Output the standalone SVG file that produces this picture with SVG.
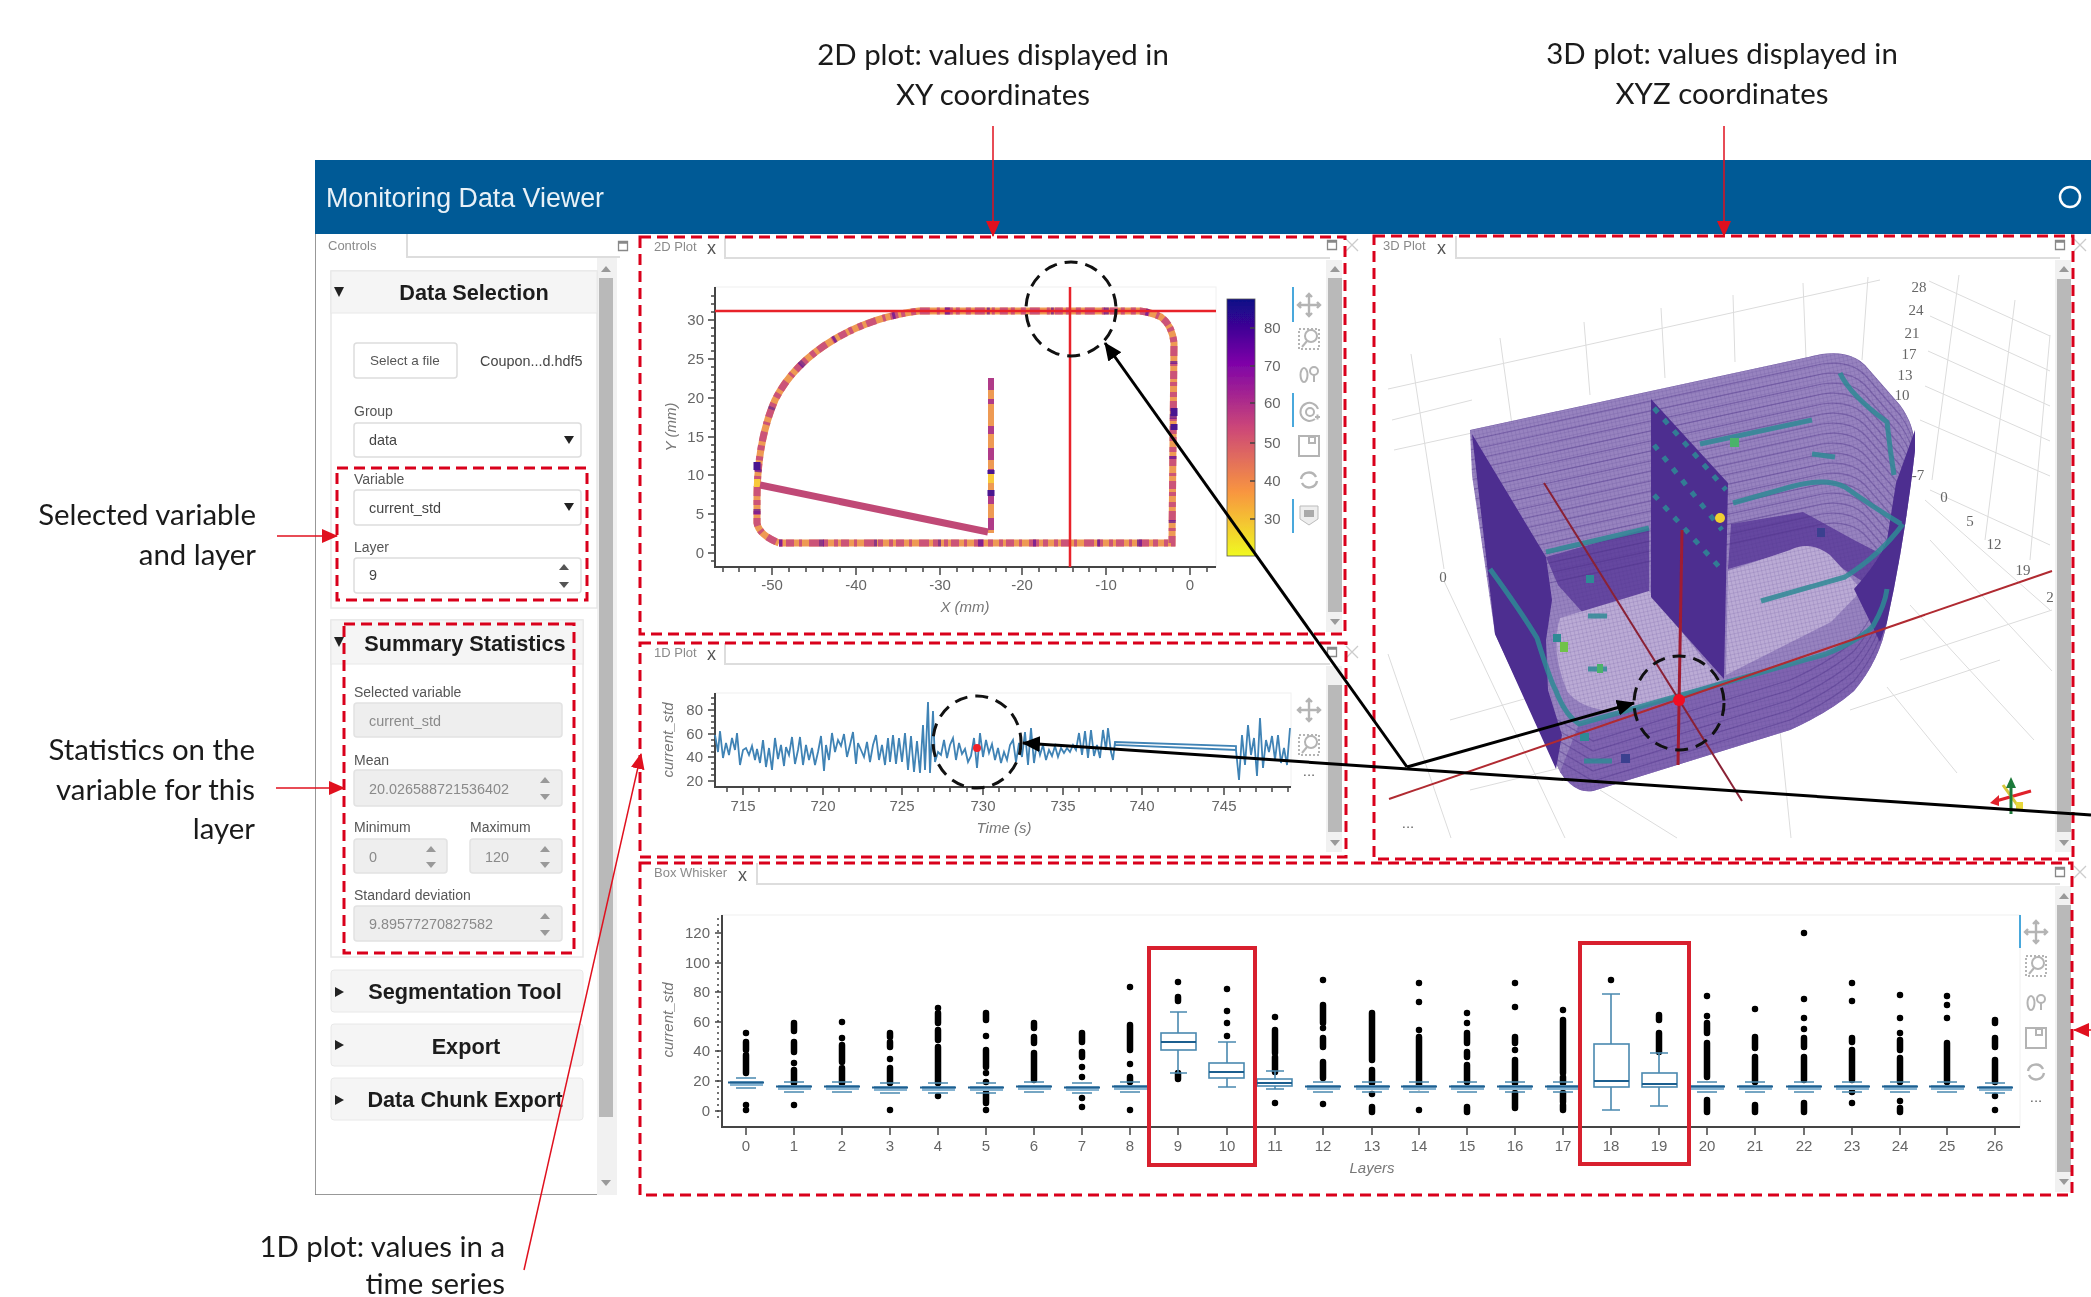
<svg xmlns="http://www.w3.org/2000/svg" width="2091" height="1297" viewBox="0 0 2091 1297">
<style>
.note{font:29.4px Lato,"Liberation Sans",sans-serif;fill:#1a1a1a}
.m{text-anchor:middle}.e{text-anchor:end}
.ui{font:14px "Liberation Sans",sans-serif;fill:#555}
.val{font:14.4px "Liberation Sans",sans-serif;fill:#444}
.dis{fill:#8a8a8a}
.hd{font:bold 21.7px "Liberation Sans",sans-serif;fill:#1c1c1c;text-anchor:middle}
.tab{font:13px "Liberation Sans",sans-serif;fill:#8a8a8a}
.tx{font:18px "Liberation Sans",sans-serif;fill:#555}
.tick{font:15px "Liberation Sans Narrow","Liberation Sans",sans-serif;fill:#666}
.ax{font:italic 15px "Liberation Sans",sans-serif;fill:#777;text-anchor:middle}
.t3{font:15px "Liberation Serif",serif;fill:#666;text-anchor:middle}
.dash{fill:none;stroke:#d9001b;stroke-width:3;stroke-dasharray:11 6}
.ring{fill:none;stroke:#111;stroke-width:3;stroke-dasharray:13 8}
.sol{fill:none;stroke:#d8202e;stroke-width:4}
.card{fill:#fff;stroke:#e8e8e8;stroke-width:1.5}
.chd{fill:#f5f5f5;stroke:#e8e8e8;stroke-width:1}
.inp{fill:#fff;stroke:#ddd;stroke-width:1.5}
.dinp{fill:#eee;stroke:#e2e2e2;stroke-width:1.5}
.track{fill:#f1f1f1}.thumb{fill:#b9b9b9}
.ln{stroke:#ddd;stroke-width:2;fill:none}
.axl{stroke:#444;stroke-width:2;fill:none}
.tk{stroke:#444;stroke-width:1.5;fill:none}
.plot{fill:#fff;stroke:#f0f0f0}
.ic{fill:none;stroke:#b4b4b4;stroke-width:2}
.bl{stroke:#4aa8dc;stroke-width:2}
.box{fill:#fff;stroke:#4a89b0;stroke-width:1.6}
.wh{fill:none;stroke:#4a89b0;stroke-width:1.6}
.med{stroke:#1f5f8f;stroke-width:2.2;fill:none}
.out{fill:none;stroke:#000;stroke-width:6.5;stroke-linecap:round}
.g3{fill:none;stroke:#dcdcdc;stroke-width:1}
.st{fill:none;stroke:#4a2f88;stroke-width:1.2;opacity:.4}
.teal{fill:none;stroke:#2f8a95;stroke-width:5;opacity:.85;stroke-linejoin:round}
.arr{stroke:#e0101e;stroke-width:1.5;fill:none}
.blk{stroke:#000;stroke-width:3;fill:none}
</style>
<defs>
<filter id="soft" x="0" y="0" width="100%" height="100%"><feGaussianBlur stdDeviation="0.55"/></filter>
<linearGradient id="plasma" x1="0" y1="0" x2="0" y2="1">
<stop offset="0" stop-color="#0d0887"/><stop offset=".25" stop-color="#7e03a8"/><stop offset=".5" stop-color="#cc4778"/><stop offset=".75" stop-color="#f89540"/><stop offset="1" stop-color="#f0f921"/>
</linearGradient>
<pattern id="mesh" width="4" height="4" patternUnits="userSpaceOnUse" patternTransform="rotate(-12)"><path d="M0 0H4M0 0V4" fill="none" stroke="#4a2f88" stroke-width=".6" opacity=".45"/></pattern>
<marker id="ar" markerUnits="userSpaceOnUse" markerWidth="16" markerHeight="14" refX="15" refY="7" orient="auto"><path d="M0 0L16 7L0 14Z" fill="#e0101e"/></marker>
<marker id="ak" markerUnits="userSpaceOnUse" markerWidth="18" markerHeight="16" refX="17" refY="8" orient="auto"><path d="M0 0L18 8L0 16Z" fill="#000"/></marker>
<path id="bodyp" d="M1470 430L1822 354Q1850 350 1865 365L1900 405Q1915 425 1915 450Q1905 540 1887 622Q1880 660 1854 691Q1830 712 1790 730L1593 791Q1575 794 1560 772Q1530 710 1495 634L1472 475Z"/>
<clipPath id="body"><use href="#bodyp"/></clipPath>
<g id="pan" class="ic"><path d="M0-11V11M-11 0H11M-3-8L0-11L3-8M-3 8L0 11L3 8M-8-3L-11 0L-8 3M8-3L11 0L8 3" stroke-width="2.4"/></g>
<g id="bz" class="ic"><rect x="-10" y="-10" width="20" height="20" stroke-dasharray="2 2"/><circle cx="2" cy="-3" r="6"/><path d="M-2 2L-7 8"/></g>
<g id="wh" class="ic"><ellipse cx="-5" cy="1" rx="3.5" ry="7"/><circle cx="5" cy="-3" r="4"/><path d="M5 1V8"/></g>
<g id="tp" class="ic"><path d="M6 8A9 9 0 1 1 9 -2"/><circle cx="1" cy="1" r="4"/><path d="M6 6H11M8.500 3.500V8.500"/></g>
<g id="sv" class="ic"><rect x="-10" y="-10" width="20" height="20"/><rect x="0" y="-9" width="6" height="6"/></g>
<g id="rf" class="ic"><path d="M-8 -1A8 8 0 0 1 7-3M8 1A8 8 0 0 1-7 3" stroke-width="2.4"/></g>
<g id="hv"><path d="M-9-9H9V4L0 10L-9 4Z" fill="#eee" stroke="#bbb"/><rect x="-5" y="-5" width="10" height="7" fill="#aaa"/></g>
<path id="up" d="M-5 3L0-3L5 3Z" fill="#555"/>
<path id="dn" d="M-5-3L0 3L5-3Z" fill="#555"/>
<path id="upg" d="M-5 3L0-3L5 3Z" fill="#999"/>
<path id="dng" d="M-5-3L0 3L5-3Z" fill="#999"/>
<path id="sel" d="M-5-4L0 4L5-4Z" fill="#222"/>
<path id="opn" d="M-5-5L0 5L5-5Z" fill="#222"/>
<path id="cls" d="M-4-5L5 0L-4 5Z" fill="#222"/>
<path id="mx" d="M-4.500-4.500H4.500V4.500H-4.500ZM-4.500-3H4.500" fill="none" stroke="#888" stroke-width="1.3"/>
<path id="cx" d="M-6-6L6 6M6-6L-6 6" fill="none" stroke="#ccc" stroke-width="1.3"/>
<g id="fb"><path class="wh" d="M-10 -3H10M-10 7H10"/><rect x="-16" y="0" width="33" height="5" fill="#86b4d2"/><path class="med" d="M-18 1.500H18" stroke-width="3"/></g>
<path id="s1" class="st" d="M1470 430L1822 354Q1850 350 1865 365L1900 405Q1915 425 1915 450"/>
<path id="s2" class="st" d="M1556 769L1593 791L1790 730Q1830 712 1854 691Q1880 660 1887 622"/>
</defs>

<g id="app" filter="url(#soft)">
<g id="header"><rect x="315" y="160" width="1776" height="74" fill="#005a96"/>
<text x="326" y="207" font-family="Liberation Sans" font-size="26.800" fill="#e8f1f7">Monitoring Data Viewer</text>
<circle cx="2070" cy="197" r="10" fill="none" stroke="#fff" stroke-width="2.500"/></g>

<g id="controls">
<path d="M315 234V1195H617" fill="none" stroke="#777" stroke-width="1.500"/>
<rect x="597" y="258" width="20" height="937" class="track"/>
<rect x="599" y="278" width="14" height="839" class="thumb"/>
<use href="#upg" x="606" y="269"/><use href="#dng" x="606" y="1183"/>
<path class="ln" d="M407 234V257H620"/><text class="tab" x="328" y="250">Controls</text><use href="#mx" x="623" y="246"/>
<g id="data-selection">
<rect class="card" x="331" y="271" width="266" height="337"/><rect class="chd" x="331" y="271" width="266" height="42"/>
<use href="#opn" x="339" y="292"/><text class="hd" x="474" y="300">Data Selection</text>
<rect class="inp" x="354" y="343" width="103" height="35" rx="3"/><text class="ui m" x="405" y="365" style="font-size:13.500px">Select a file</text>
<text class="val" x="480" y="366">Coupon...d.hdf5</text>
<text class="ui" x="354" y="416">Group</text><rect class="inp" x="354" y="423" width="227" height="34" rx="3"/><text class="val" x="369" y="445">data</text><use href="#sel" x="569" y="440"/>
<text class="ui" x="354" y="484">Variable</text><rect class="inp" x="354" y="490" width="227" height="35" rx="3"/><text class="val" x="369" y="513">current_std</text><use href="#sel" x="569" y="507"/>
<text class="ui" x="354" y="552">Layer</text><rect class="inp" x="354" y="558" width="227" height="35" rx="3"/><text class="val" x="369" y="580">9</text><use href="#up" x="564" y="567"/><use href="#dn" x="564" y="585"/>
</g>
<g id="summary-statistics">
<rect class="card" x="331" y="620" width="252" height="337"/><rect class="chd" x="331" y="620" width="252" height="44"/>
<use href="#opn" x="339" y="642"/><text class="hd" x="465" y="651">Summary Statistics</text>
<text class="ui" x="354" y="697">Selected variable</text><rect class="dinp" x="354" y="703" width="208" height="34" rx="3"/><text class="val dis" x="369" y="726">current_std</text>
<text class="ui" x="354" y="765">Mean</text><rect class="dinp" x="354" y="770" width="208" height="36" rx="3"/><text class="val dis" x="369" y="794">20.026588721536402</text><use href="#upg" x="545" y="780"/><use href="#dng" x="545" y="797"/>
<text class="ui" x="354" y="832">Minimum</text><rect class="dinp" x="354" y="839" width="93" height="34" rx="3"/><text class="val dis" x="369" y="862">0</text><use href="#upg" x="431" y="849"/><use href="#dng" x="431" y="865"/>
<text class="ui" x="470" y="832">Maximum</text><rect class="dinp" x="470" y="839" width="92" height="34" rx="3"/><text class="val dis" x="485" y="862">120</text><use href="#upg" x="545" y="849"/><use href="#dng" x="545" y="865"/>
<text class="ui" x="354" y="900">Standard deviation</text><rect class="dinp" x="354" y="906" width="208" height="35" rx="3"/><text class="val dis" x="369" y="929">9.89577270827582</text><use href="#upg" x="545" y="916"/><use href="#dng" x="545" y="933"/>
</g>
<g id="segmentation-tool"><rect class="chd" x="331" y="970" width="252" height="42" rx="3"/><use href="#cls" x="339" y="992"/><text class="hd" x="465" y="999">Segmentation Tool</text></g>
<g id="export"><rect class="chd" x="331" y="1024" width="252" height="42" rx="3"/><use href="#cls" x="339" y="1045"/><text class="hd" x="466" y="1054">Export</text></g>
<g id="chunk-export"><rect class="chd" x="331" y="1078" width="252" height="42" rx="3"/><use href="#cls" x="339" y="1100"/><text class="hd" x="465" y="1107">Data Chunk Export</text></g>
</g>

<g id="plot-2d">
<path class="ln" d="M725 236V258H1330"/><text class="tab" x="654" y="251">2D Plot</text><text class="tx" x="707" y="254">x</text><use href="#mx" x="1332" y="245"/><use href="#cx" x="1352" y="245"/>
<rect class="track" x="1326" y="260" width="16" height="372"/><rect class="thumb" x="1328" y="278" width="14" height="334"/><use href="#upg" x="1335" y="269"/><use href="#dng" x="1335" y="622"/>
<rect class="plot" x="715" y="287" width="501" height="280"/>
<path class="axl" d="M715 287V567H1216"/>
<path class="tk" d="M708 320H715M708 359H715M708 398H715M708 437H715M708 475H715M708 514H715M708 553H715M772 567V575M856 567V575M940 567V575M1022 567V575M1106 567V575M1190 567V575"/>
<path class="tk" stroke-width="1" d="M711 296H715M711 304H715M711 312H715M711 328H715M711 336H715M711 343H715M711 351H715M711 367H715M711 375H715M711 382H715M711 390H715M711 406H715M711 413H715M711 421H715M711 429H715M711 445H715M711 452H715M711 460H715M711 467H715M711 483H715M711 491H715M711 499H715M711 506H715M711 522H715M711 530H715M711 537H715M711 545H715M711 561H715M723 567V572M739 567V572M755 567V572M789 567V572M806 567V572M823 567V572M840 567V572M873 567V572M890 567V572M906 567V572M923 567V572M957 567V572M973 567V572M990 567V572M1006 567V572M1039 567V572M1056 567V572M1073 567V572M1089 567V572M1123 567V572M1140 567V572M1156 567V572M1173 567V572M1207 567V572"/>
<g class="tick"><text class="e" x="704" y="325">30</text><text class="e" x="704" y="364">25</text><text class="e" x="704" y="403">20</text><text class="e" x="704" y="442">15</text><text class="e" x="704" y="480">10</text><text class="e" x="704" y="519">5</text><text class="e" x="704" y="558">0</text>
<text class="m" x="772" y="590">-50</text><text class="m" x="856" y="590">-40</text><text class="m" x="940" y="590">-30</text><text class="m" x="1022" y="590">-20</text><text class="m" x="1106" y="590">-10</text><text class="m" x="1190" y="590">0</text></g>
<text class="ax" x="965" y="612">X (mm)</text><text class="ax" transform="translate(676 427) rotate(-90)">Y (mm)</text>
<path id="p2" fill="none" stroke="#ee9a52" stroke-width="7" d="M779 543H1172L1174 343Q1172 325 1161 317Q1150 312 1140 311H919C860 318 800 350 775 400C760 435 757 470 757 500V523Q759 535 779 543"/>
<path fill="none" stroke="#c64a7c" stroke-width="7" opacity=".9" stroke-dasharray="4 3 8 5 3 7 10 4 5 6" d="M779 543H1172L1174 343Q1172 325 1161 317Q1150 312 1140 311H919C860 318 800 350 775 400C760 435 757 470 757 500V523Q759 535 779 543"/>
<path fill="none" stroke="#6a1596" stroke-width="7" opacity=".75" stroke-dasharray="3 37 5 50 3 61" d="M779 543H1172L1174 343Q1172 325 1161 317Q1150 312 1140 311H919C860 318 800 350 775 400C760 435 757 470 757 500V523Q759 535 779 543"/>
<path fill="none" stroke="#ee9a52" stroke-width="6" d="M991 378V533"/>
<path fill="none" stroke="#b03a88" stroke-width="6" stroke-dasharray="12 9 5 22 8 14" d="M991 378V533"/>
<path fill="none" stroke="#4a1490" stroke-width="7" d="M1174 408v8M1174 424v6M757 462v8M991 470v4M991 490v6"/>
<path fill="none" stroke="#f8c93a" stroke-width="6" d="M991 474v9M757 479v8"/>
<path fill="none" stroke="#c04a76" stroke-width="7" d="M760 485L988 532"/>
<path fill="none" stroke="#e8202a" stroke-width="2.500" d="M715 311H1216M1070 287V567"/>
<rect x="1227" y="299" width="28" height="257" fill="url(#plasma)" stroke="#555" stroke-width=".8"/>
<path class="tk" d="M1250 328H1255M1250 366H1255M1250 403H1255M1250 443H1255M1250 481H1255M1250 519H1255"/>
<g class="tick"><text x="1264" y="333">80</text><text x="1264" y="371">70</text><text x="1264" y="408">60</text><text x="1264" y="448">50</text><text x="1264" y="486">40</text><text x="1264" y="524">30</text></g>
<path class="bl" d="M1293 287V322M1293 393V427M1293 499V533"/>
<use href="#pan" x="1309" y="305"/><use href="#bz" x="1309" y="339"/><use href="#wh" x="1309" y="374"/><use href="#tp" x="1309" y="411"/><use href="#sv" x="1309" y="446"/><use href="#rf" x="1309" y="480"/><use href="#hv" x="1309" y="515"/>
</g>

<g id="plot-1d">
<path class="ln" d="M725 643V664H1330"/><text class="tab" x="654" y="657">1D Plot</text><text class="tx" x="707" y="660">x</text><use href="#mx" x="1332" y="652"/><use href="#cx" x="1352" y="652"/>
<rect class="track" x="1326" y="666" width="16" height="186"/><rect class="thumb" x="1328" y="685" width="14" height="147"/><use href="#dng" x="1335" y="843"/>
<rect class="plot" x="715" y="693" width="576" height="94"/>
<path class="axl" d="M715 693V787H1291"/>
<path class="tk" d="M708 710H715M708 734H715M708 757H715M708 781H715M743 787V795M823 787V795M902 787V795M983 787V795M1063 787V795M1142 787V795M1224 787V795"/>
<path class="tk" stroke-width="1" d="M711 698H715M711 704H715M711 716H715M711 722H715M711 728H715M711 740H715M711 746H715M711 752H715M711 763H715M711 769H715M711 775H715M727 787V792M759 787V792M775 787V792M791 787V792M807 787V792M839 787V792M855 787V792M871 787V792M886 787V792M918 787V792M934 787V792M950 787V792M967 787V792M999 787V792M1015 787V792M1031 787V792M1047 787V792M1079 787V792M1095 787V792M1111 787V792M1127 787V792M1158 787V792M1175 787V792M1191 787V792M1208 787V792M1240 787V792M1256 787V792M1272 787V792M1288 787V792"/>
<g class="tick"><text class="e" x="703" y="715">80</text><text class="e" x="703" y="739">60</text><text class="e" x="703" y="762">40</text><text class="e" x="703" y="786">20</text>
<text class="m" x="743" y="811">715</text><text class="m" x="823" y="811">720</text><text class="m" x="902" y="811">725</text><text class="m" x="983" y="811">730</text><text class="m" x="1063" y="811">735</text><text class="m" x="1142" y="811">740</text><text class="m" x="1224" y="811">745</text></g>
<text class="ax" x="1004" y="833">Time (s)</text><text class="ax" transform="translate(673 740) rotate(-90)">current_std</text>
<polyline fill="none" stroke="#3f83b5" stroke-width="1.8" points="715,735 718,752 720,731 723,758 726,743 729,755 732,738 735,750 737,733 740,765 743,750 746,748 749,755 752,746 755,760 757,749 760,763 763,740 766,767 769,748 772,770 775,738 778,759 781,745 784,766 786,747 789,755 792,737 795,764 798,750 800,737 803,765 806,745 809,760 812,748 815,765 818,752 821,736 824,771 826,745 829,760 832,733 835,752 838,740 841,746 844,734 847,757 850,745 853,732 856,764 858,743 861,750 864,757 867,742 870,762 873,745 876,735 879,760 882,745 885,765 888,738 890,762 893,735 896,764 899,738 902,762 905,733 908,770 911,736 914,772 917,741 920,773 923,725 925,770 928,702 930,773 933,711 935,762 938,752 941,755 944,740 947,758 950,745 953,738 956,760 959,743 962,754 965,749 968,762 971,756 974,738 977,768 980,733 983,757 986,740 989,753 992,744 995,760 998,748 1001,763 1004,752 1007,760 1010,745 1013,740 1016,762 1019,743 1022,757 1025,732 1028,765 1031,728 1034,763 1037,742 1040,755 1043,745 1046,760 1049,750 1052,756 1055,746 1058,757 1061,748 1064,753 1067,748 1070,752 1073,745 1076,750 1079,733 1082,755 1085,731 1088,758 1091,730 1094,756 1097,745 1100,758 1103,730 1106,750 1108,728 1111,752 1113,760 1115,742 1236,746 1236,750 1115,745 1115,742"/>
<polyline fill="none" stroke="#3f83b5" stroke-width="1.8" points="1236,750 1239,780 1242,735 1245,765 1248,725 1251,755 1254,738 1257,776 1260,718 1263,768 1266,740 1269,752 1272,736 1275,760 1278,735 1281,763 1284,748 1287,765 1290,728"/>
<circle cx="977" cy="748" r="4" fill="#f0202a"/>
<use href="#pan" x="1309" y="710"/><use href="#bz" x="1309" y="745"/><text class="tick m" x="1309" y="776" fill="#aaa">...</text>
</g>

<g id="plot-3d">
<path class="ln" d="M1456 236V258H2060"/><text class="tab" x="1383" y="250">3D Plot</text><text class="tx" x="1437" y="254">x</text><use href="#mx" x="2060" y="245"/><use href="#cx" x="2080" y="245"/>
<rect class="track" x="2055" y="260" width="16" height="592"/><rect class="thumb" x="2057" y="279" width="14" height="553"/><use href="#upg" x="2064" y="269"/><use href="#dng" x="2064" y="843"/>
<path class="g3" d="M1411 354L1444 569M1500 338L1512 425M1584 322L1590 395M1661 308L1665 378M1733 295L1735 362M1803 283L1806 358M1868 277L1862 360M1388 389L1880 280M1392 420L1472 400M1394 450L1472 433"/>
<path class="g3" d="M1929 281L2050 336M1930 316L2050 371M1928 351L2050 406M1925 386L2050 441M1920 420L2050 476M1930 490L2050 545M1959 275L1932 480M2015 300L1985 540M2050 335L2030 560M1925 500L2050 610"/>
<path class="g3" d="M1388 654L1451 838M1444 581L1565 838M1600 790L1677 838M1780 730L1791 838M1957 773L1887 687M2034 740L1910 605M2052 671L1930 540M1450 720L1556 690M1470 790L1593 760M1900 660L2052 610M1850 710L2000 660"/>
<use href="#bodyp" fill="#8c75b8" opacity=".9"/>
<path d="M1546 557L1649 528V593L1584 614L1558 585Z" fill="#6546a0"/>
<path d="M1731 524L1803 512L1854 540L1887 557L1868 585L1808 546L1728 569Z" fill="#6546a0"/>
<g clip-path="url(#body)">
<rect x="1470" y="350" width="450" height="445" fill="url(#mesh)"/>
<use href="#s1"/><use href="#s1" y="10"/><use href="#s1" y="20"/><use href="#s1" y="30"/><use href="#s1" y="40"/><use href="#s1" y="50"/><use href="#s1" y="60"/><use href="#s1" y="70"/><use href="#s1" y="80"/><use href="#s1" y="90"/><use href="#s1" y="100"/><use href="#s1" y="110"/><use href="#s1" y="120"/><use href="#s1" y="130"/><use href="#s1" y="140"/><use href="#s1" y="150"/><use href="#s1" y="160"/><use href="#s1" y="170"/>
</g>
<path d="M1560 618L1649 591L1721 681L1621 712Q1580 710 1567 691Q1550 650 1560 618Z" fill="#bbabd5"/>
<path d="M1728 571L1790 550Q1810 540 1830 555L1862 590L1831 622L1726 675Z" fill="#bbabd5"/>
<path d="M1560 618L1649 591L1721 681L1621 712Q1580 710 1567 691Q1550 650 1560 618ZM1728 571L1790 550Q1810 540 1830 555L1862 590L1831 622L1726 675Z" fill="url(#mesh)"/>
<path d="M1579 724L1724 683L1826 654L1873 626L1887 622Q1880 660 1854 691Q1830 712 1790 730L1593 791Q1575 794 1560 772Z" fill="#7f64b0"/>
<g clip-path="url(#body)">
<path d="M1579 724L1724 683L1826 654L1873 626L1887 622Q1880 660 1854 691Q1830 712 1790 730L1593 791Q1575 794 1560 772Z" fill="url(#mesh)"/>
<use href="#s2" y="-10"/><use href="#s2" y="-20"/><use href="#s2" y="-30"/><use href="#s2" y="-40"/><use href="#s2" y="-50"/>
</g>
<path d="M1472 434L1546 557L1552 600L1546 640L1548 690L1562 735L1556 769L1495 634Z" fill="#4d2d90"/>
<path d="M1915 430V450Q1905 540 1887 622L1880 642L1854 589Q1880 560 1887 540L1896 483Z" fill="#4d2d90"/>
<path d="M1651 399L1728 483L1724 679L1651 597Z" fill="#4d2d90"/>
<path class="teal" stroke-width="6" stroke-dasharray="6 9" opacity=".6" d="M1654 408L1726 490M1654 445L1722 530M1654 495L1722 570"/>
<path class="teal" d="M1700 444L1812 420M1840 373Q1850 395 1887 422Q1890 450 1894 475M1733 503L1790 487Q1825 477 1845 487Q1870 505 1901 524M1761 601L1845 577Q1880 555 1903 524M1546 552L1649 528M1812 454L1835 457M1588 616H1607M1588 669H1607M1584 761H1612"/>
<path class="teal" stroke-width="4" d="M1490 569Q1520 610 1537 638Q1550 680 1556 691Q1565 715 1579 724L1724 683L1826 654Q1860 640 1873 626Q1885 605 1887 589"/>
<path d="M1553 638h8M1586 579h8M1580 737h9" stroke="#2f8a95" stroke-width="8" fill="none"/>
<rect x="1730" y="438" width="9" height="9" fill="#4cb26b"/><rect x="1560" y="642" width="8" height="10" fill="#6fc24a"/><rect x="1597" y="664" width="6" height="9" fill="#4cb26b"/>
<circle cx="1720" cy="518" r="5" fill="#f0d030"/>
<rect x="1817" y="528" width="8" height="9" fill="#3a3f8f"/><rect x="1621" y="754" width="9" height="9" fill="#3a3f8f"/>
<path fill="none" stroke="#b02a30" stroke-width="2" d="M1389 799L2052 571"/>
<path fill="none" stroke="#8a2035" stroke-width="2" d="M1544 483L1742 801"/>
<path fill="none" stroke="#a01f30" stroke-width="3" d="M1682 530L1678 765"/>
<circle cx="1679" cy="700" r="6" fill="#f00f20"/>
<g class="t3"><text x="1919" y="292">28</text><text x="1916" y="315">24</text><text x="1912" y="338">21</text><text x="1909" y="359">17</text><text x="1905" y="380">13</text><text x="1902" y="400">10</text><text x="1918" y="480">-7</text><text x="1944" y="502">0</text><text x="1970" y="526">5</text><text x="1994" y="549">12</text><text x="2023" y="575">19</text><text x="2050" y="602">2</text><text x="1443" y="582">0</text></g>
<text class="tick m" x="1408" y="828">...</text>
<path fill="none" stroke="#e0202a" stroke-width="3" d="M2031 791L1996 801"/><path d="M1990 803L1999 795V806Z" fill="#e0202a"/>
<path fill="none" stroke="#d8c83a" stroke-width="3" d="M2003 785L2018 806"/><rect x="2016" y="802" width="7" height="7" fill="#e8d83a"/>
<path fill="none" stroke="#1f7a3a" stroke-width="3" d="M2011 814V786"/><path d="M2006 788L2011 777L2016 788Z" fill="#1f7a3a"/>
</g>

<g id="box-whisker">
<path class="ln" d="M757 863V884H2060"/><text class="tab" x="654" y="877">Box Whisker</text><text class="tx" x="738" y="881">x</text><use href="#mx" x="2060" y="872"/><use href="#cx" x="2080" y="872"/>
<rect class="track" x="2055" y="886" width="16" height="306"/><rect class="thumb" x="2057" y="905" width="14" height="267"/><use href="#upg" x="2064" y="896"/><use href="#dng" x="2064" y="1182"/>
<rect class="plot" x="722" y="915" width="1298" height="212"/>
<path class="axl" d="M722 915V1127H2020"/>
<path class="tk" d="M715 933H722M715 963H722M715 992H722M715 1022H722M715 1051H722M715 1081H722M715 1111H722M746 1127V1135M794 1127V1135M842 1127V1135M890 1127V1135M938 1127V1135M986 1127V1135M1034 1127V1135M1082 1127V1135M1130 1127V1135M1178 1127V1135M1227 1127V1135M1275 1127V1135M1323 1127V1135M1372 1127V1135M1419 1127V1135M1467 1127V1135M1515 1127V1135M1563 1127V1135M1611 1127V1135M1659 1127V1135M1707 1127V1135M1755 1127V1135M1804 1127V1135M1852 1127V1135M1900 1127V1135M1947 1127V1135M1995 1127V1135"/>
<path class="tk" stroke-width="1.500" stroke-dasharray="2 4" d="M718 918V1122"/>
<g class="tick"><text class="e" x="710" y="938">120</text><text class="e" x="710" y="968">100</text><text class="e" x="710" y="997">80</text><text class="e" x="710" y="1027">60</text><text class="e" x="710" y="1056">40</text><text class="e" x="710" y="1086">20</text><text class="e" x="710" y="1116">0</text>
<text class="m" x="746" y="1151">0</text><text class="m" x="794" y="1151">1</text><text class="m" x="842" y="1151">2</text><text class="m" x="890" y="1151">3</text><text class="m" x="938" y="1151">4</text><text class="m" x="986" y="1151">5</text><text class="m" x="1034" y="1151">6</text><text class="m" x="1082" y="1151">7</text><text class="m" x="1130" y="1151">8</text><text class="m" x="1178" y="1151">9</text><text class="m" x="1227" y="1151">10</text><text class="m" x="1275" y="1151">11</text><text class="m" x="1323" y="1151">12</text><text class="m" x="1372" y="1151">13</text><text class="m" x="1419" y="1151">14</text><text class="m" x="1467" y="1151">15</text><text class="m" x="1515" y="1151">16</text><text class="m" x="1563" y="1151">17</text><text class="m" x="1611" y="1151">18</text><text class="m" x="1659" y="1151">19</text><text class="m" x="1707" y="1151">20</text><text class="m" x="1755" y="1151">21</text><text class="m" x="1804" y="1151">22</text><text class="m" x="1852" y="1151">23</text><text class="m" x="1900" y="1151">24</text><text class="m" x="1947" y="1151">25</text><text class="m" x="1995" y="1151">26</text></g>
<text class="ax" x="1372" y="1173">Layers</text><text class="ax" transform="translate(673 1020) rotate(-90)">current_std</text>
<path class="out" d="M746 1033h0M746 1042V1050M746 1055V1073M746 1105h0M746 1110h0
M794 1023V1031M794 1042V1052M794 1063h0M794 1070V1083M794 1105h0
M842 1022h0M842 1038h0M842 1045V1062M842 1068V1083
M890 1033V1037M890 1042V1047M890 1059h0M890 1068V1083M890 1110h0
M938 1008h0M938 1013V1023M938 1030V1040M938 1047V1083M938 1096h0
M986 1013V1020M986 1036h0M986 1050V1067M986 1073h0M986 1082h0M986 1093V1103M986 1110h0
M1034 1023V1028M1034 1037V1043M1034 1053V1080
M1082 1033V1042M1082 1052V1057M1082 1067h0M1082 1077h0M1082 1098h0M1082 1107h0
M1130 987h0M1130 1025V1050M1130 1064h0M1130 1077V1082M1130 1110h0
M1178 982h0M1178 997V1001M1178 1073V1079
M1227 989h0M1227 1011h0M1227 1023h0M1227 1036h0
M1275 1017h0M1275 1030V1053M1275 1057V1072M1275 1103h0
M1323 980h0M1323 1005V1023M1323 1028h0M1323 1038V1047M1323 1062V1078M1323 1104h0
M1372 1013V1060M1372 1070V1083M1372 1094h0M1372 1107V1112
M1419 983h0M1419 1002h0M1419 1030h0M1419 1037V1087M1419 1110h0
M1467 1013h0M1467 1023h0M1467 1033V1043M1467 1052V1057M1467 1065V1082M1467 1107V1112
M1515 983h0M1515 1007h0M1515 1037V1043M1515 1050h0M1515 1060V1083M1515 1093V1108
M1563 1010h0M1563 1020V1073M1563 1077V1083M1563 1093V1102M1563 1105V1110
M1611 980h0
M1659 1015V1020M1659 1033V1052
M1707 996h0M1707 1016h0M1707 1023V1033M1707 1043V1077M1707 1100V1112
M1755 1009h0M1755 1037V1048M1755 1057V1082M1755 1105V1112
M1804 933h0M1804 999h0M1804 1018h0M1804 1029h0M1804 1038V1047M1804 1057V1080M1804 1103V1112
M1852 983h0M1852 1001h0M1852 1038V1042M1852 1050V1080M1852 1092h0M1852 1103h0
M1900 995h0M1900 1018h0M1900 1033h0M1900 1040V1050M1900 1058V1082M1900 1101h0M1900 1108V1112
M1947 996h0M1947 1005h0M1947 1018h0M1947 1043V1082
M1995 1020V1023M1995 1038V1047M1995 1060V1082M1995 1096h0M1995 1110h0"/>
<use href="#fb" x="746" y="1081"/><use href="#fb" x="794" y="1085"/><use href="#fb" x="842" y="1085"/><use href="#fb" x="890" y="1086"/><use href="#fb" x="938" y="1086"/><use href="#fb" x="986" y="1086"/><use href="#fb" x="1034" y="1085"/><use href="#fb" x="1082" y="1086"/><use href="#fb" x="1130" y="1085"/><use href="#fb" x="1323" y="1085"/><use href="#fb" x="1372" y="1085"/><use href="#fb" x="1419" y="1085"/><use href="#fb" x="1467" y="1085"/><use href="#fb" x="1515" y="1085"/><use href="#fb" x="1563" y="1085"/><use href="#fb" x="1707" y="1085"/><use href="#fb" x="1755" y="1085"/><use href="#fb" x="1804" y="1085"/><use href="#fb" x="1852" y="1085"/><use href="#fb" x="1900" y="1085"/><use href="#fb" x="1947" y="1085"/><use href="#fb" x="1995" y="1086"/>
<path class="wh" d="M1170 1012H1187M1178 1012V1073M1170 1073H1187M1218 1042H1236M1227 1042V1087M1218 1087H1236M1266 1071H1284M1275 1071V1089M1266 1089H1284M1602 994H1620M1611 994V1110M1602 1110H1620M1650 1053H1668M1659 1053V1106M1650 1106H1668"/>
<rect class="box" x="1161" y="1033" width="35" height="17"/><path class="med" d="M1161 1042H1196"/>
<rect class="box" x="1209" y="1063" width="35" height="15"/><path class="med" d="M1209 1072H1244"/>
<rect class="box" x="1257" y="1079" width="35" height="7"/><path class="med" d="M1257 1083H1292"/>
<rect class="box" x="1594" y="1044" width="35" height="43"/><path class="med" d="M1594 1081H1629"/>
<rect class="box" x="1642" y="1073" width="35" height="14"/><path class="med" d="M1642 1084H1677"/>
<path class="bl" d="M2020 915V948"/>
<use href="#pan" x="2036" y="932"/><use href="#bz" x="2036" y="966"/><use href="#wh" x="2036" y="1002"/><use href="#sv" x="2036" y="1038"/><use href="#rf" x="2036" y="1072"/><text class="tick m" x="2036" y="1102" fill="#aaa">...</text>
</g>
</g>

<g id="highlights">
<rect class="dash" x="640" y="237" width="705" height="397"/>
<rect class="dash" x="640" y="643" width="706" height="214"/>
<rect class="dash" x="1374" y="236" width="699" height="623"/>
<rect class="dash" x="640" y="863" width="1432" height="332"/>
<rect class="dash" x="337" y="468" width="250" height="132"/>
<rect class="dash" x="344" y="624" width="230" height="329"/>
<rect class="sol" x="1149" y="948" width="106" height="217"/>
<rect class="sol" x="1580" y="943" width="109" height="221"/>
<ellipse class="ring" cx="1071" cy="309" rx="45" ry="47"/>
<ellipse class="ring" cx="977" cy="742" rx="44" ry="46"/>
<ellipse class="ring" cx="1679" cy="703" rx="45" ry="47"/>
</g>

<g id="connectors">
<path class="arr" marker-end="url(#ar)" d="M993 126V236"/>
<path class="arr" marker-end="url(#ar)" d="M1724 126V236"/>
<path class="arr" marker-end="url(#ar)" d="M277 536H337"/>
<path class="arr" marker-end="url(#ar)" d="M276 788H344"/>
<path class="arr" marker-end="url(#ar)" d="M524 1270L641 754"/>
<path class="arr" marker-end="url(#ar)" d="M2105 1030H2074"/>
<path class="blk" marker-end="url(#ak)" d="M1407 767L1105 343"/>
<path class="blk" marker-end="url(#ak)" d="M1407 767L1634 703"/>
<path class="blk" marker-end="url(#ak)" d="M2091 815L1023 743"/>
</g>

<g id="labels">
<text class="note m" x="993" y="65">2D plot: values displayed in</text><text class="note m" x="993" y="105">XY coordinates</text>
<text class="note m" x="1722" y="64">3D plot: values displayed in</text><text class="note m" x="1722" y="104">XYZ coordinates</text>
<text class="note e" x="256" y="525">Selected variable</text><text class="note e" x="256" y="565">and layer</text>
<text class="note e" x="255" y="760">Statistics on the</text><text class="note e" x="255" y="800">variable for this</text><text class="note e" x="255" y="839">layer</text>
<text class="note e" x="505" y="1257">1D plot: values in a</text><text class="note e" x="505" y="1294">time series</text>
</g>
</svg>
